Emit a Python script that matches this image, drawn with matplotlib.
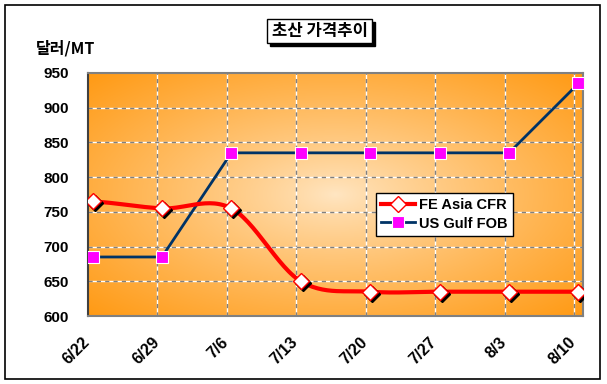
import numpy as np
import matplotlib
matplotlib.use("Agg")
import matplotlib.pyplot as plt
from matplotlib.patches import Rectangle
from matplotlib.transforms import offset_copy, ScaledTranslation

plt.rcParams['font.family'] = ['Liberation Sans', 'DejaVu Sans']

# data
dates = ['6/22', '6/29', '7/6', '7/13', '7/20', '7/27', '8/3', '8/10']
fe_asia_cfr = [765, 755, 755, 650, 635, 635, 635, 635]
us_gulf_fob = [685, 685, 835, 835, 835, 835, 835, 935]
yticks = [600, 650, 700, 750, 800, 850, 900, 950]


def smooth(x, y, n=30):
    # catmull-rom curve like the excel "smoothed line" option
    x = np.asarray(x, float)
    y = np.asarray(y, float)
    xs, ys = [], []
    for i in range(len(x) - 1):
        y0 = y[i - 1] if i > 0 else y[i]
        y3 = y[i + 2] if i + 2 < len(y) else y[i + 1]
        m1 = (y[i + 1] - y0) / 2
        m2 = (y3 - y[i]) / 2
        t = np.linspace(0, 1, n)
        h00 = 2 * t**3 - 3 * t**2 + 1
        h10 = t**3 - 2 * t**2 + t
        h01 = -2 * t**3 + 3 * t**2
        h11 = t**3 - t**2
        xs.append(x[i] + t * (x[i + 1] - x[i]))
        ys.append(h00 * y[i] + h10 * m1 + h01 * y[i + 1] + h11 * m2)
    return np.concatenate(xs), np.concatenate(ys)


W, H = 607, 384
fig = plt.figure(figsize=(W / 100, H / 100), dpi=100)
fig.patch.set_facecolor('white')

# outer frame
fig.add_artist(Rectangle((5 / W, 1 - 379 / H), 595 / W, 374 / H, transform=fig.transFigure,
                         fill=False, edgecolor='black', linewidth=1.2))

ax = fig.add_axes([88 / W, 1 - 316 / H, 495 / W, 243 / H])

# radial orange gradient background
gx, gy = np.meshgrid(np.linspace(-1, 1, 300), np.linspace(-1, 1, 200))
r = np.clip(np.sqrt(gx**2 + gy**2) / np.sqrt(2), 0, 1) ** 0.85
light = np.array([255, 230, 195]) / 255
dark = np.array([255, 154, 20]) / 255
img = light[None, None, :] * (1 - r[..., None]) + dark[None, None, :] * r[..., None]
ax.imshow(img, extent=[0, 1, 0, 1], transform=ax.transAxes, aspect='auto', zorder=0)

x = np.arange(len(dates))
ax.set_xlim(-0.065, len(dates) - 1 + 0.065)
ax.set_ylim(600, 950)

# gridlines: gray dashes on white
gridx = x[1:] - 0.065
for gxv in gridx:
    ax.axvline(gxv, color='white', lw=1, zorder=1)
    ax.axvline(gxv, color='#808080', lw=1, ls=(0, (3, 3)), zorder=1)
for yv in yticks[1:-1]:
    ax.axhline(yv, color='white', lw=1, zorder=1)
    ax.axhline(yv, color='#808080', lw=1, ls=(0, (3, 3)), zorder=1)

# US Gulf FOB
h_us, = ax.plot(x, us_gulf_fob, color='#003366', lw=2, marker='s', ms=8,
                mfc='#FF00FF', mec='white', mew=0.8, zorder=3, label='US Gulf FOB')

# FE Asia CFR smoothed
sx, sy = smooth(x, fe_asia_cfr)
ax.plot(sx, sy, color='#FF0000', lw=3, zorder=4)
shadow = offset_copy(ax.transData, fig=fig, x=2, y=-2, units='dots')
ax.plot(x, fe_asia_cfr, ls='none', marker='D', ms=8, mfc='black', mec='black',
        transform=shadow, zorder=4.5)
ax.plot(x, fe_asia_cfr, ls='none', marker='D', ms=8, mfc='white', mec='#FF0000',
        mew=1, zorder=5)
h_fe, = ax.plot([], [], color='#FF0000', lw=3, marker='D', ms=8, mfc='white',
                mec='#FF0000', mew=1, label='FE Asia CFR')

ax.set_yticks(yticks)
ax.set_yticklabels([str(v) for v in yticks], fontsize=11, fontweight='bold')
ax.set_xticks(x)
ax.set_xticklabels(dates, rotation=45, ha='right', va='center', rotation_mode='anchor',
                   fontsize=11.5, fontweight='bold')
ax.tick_params(axis='y', length=0, pad=14)
ax.tick_params(axis='x', length=0, pad=17)
shift = ScaledTranslation(-5 / 100, 0, fig.dpi_scale_trans)
for lab in ax.get_xticklabels():
    lab.set_transform(lab.get_transform() + shift)

for side in ['top', 'right', 'bottom']:
    ax.spines[side].set_color('#808080')
    ax.spines[side].set_linewidth(1.5)
ax.spines['left'].set_color('#404040')
ax.spines['left'].set_linewidth(1.5)

leg = ax.legend(handles=[h_fe, h_us], labels=['FE Asia CFR', 'US Gulf FOB'],
                loc='upper left', bbox_to_anchor=(0.582, 0.506), borderaxespad=0,
                fancybox=False, framealpha=1, edgecolor='black', handlelength=2.3,
                handletextpad=0.3, borderpad=0.35, labelspacing=0.3,
                prop={'weight': 'bold', 'size': 10.5})
leg.get_frame().set_linewidth(1)
leg.set_zorder(10)

# title box with shadow
fig.add_artist(Rectangle((270 / W, 1 - 46 / H), 105 / W, 24 / H, transform=fig.transFigure,
                         facecolor='black', edgecolor='black'))
fig.add_artist(Rectangle((267 / W, 1 - 43 / H), 105 / W, 24 / H, transform=fig.transFigure,
                         facecolor='white', edgecolor='black', linewidth=1))
fig.text(319.5 / W, 1 - 31 / H, '초산 가격추이', ha='center', va='center', fontsize=12,
         fontweight='bold', family=['Noto Sans CJK KR', 'DejaVu Sans'])

fig.text(36 / W, 1 - 48 / H, '달러/MT', ha='left', va='center', fontsize=11.5,
         fontweight='bold', family=['Noto Sans CJK KR', 'DejaVu Sans'])

fig.savefig('out.png', dpi=100)
